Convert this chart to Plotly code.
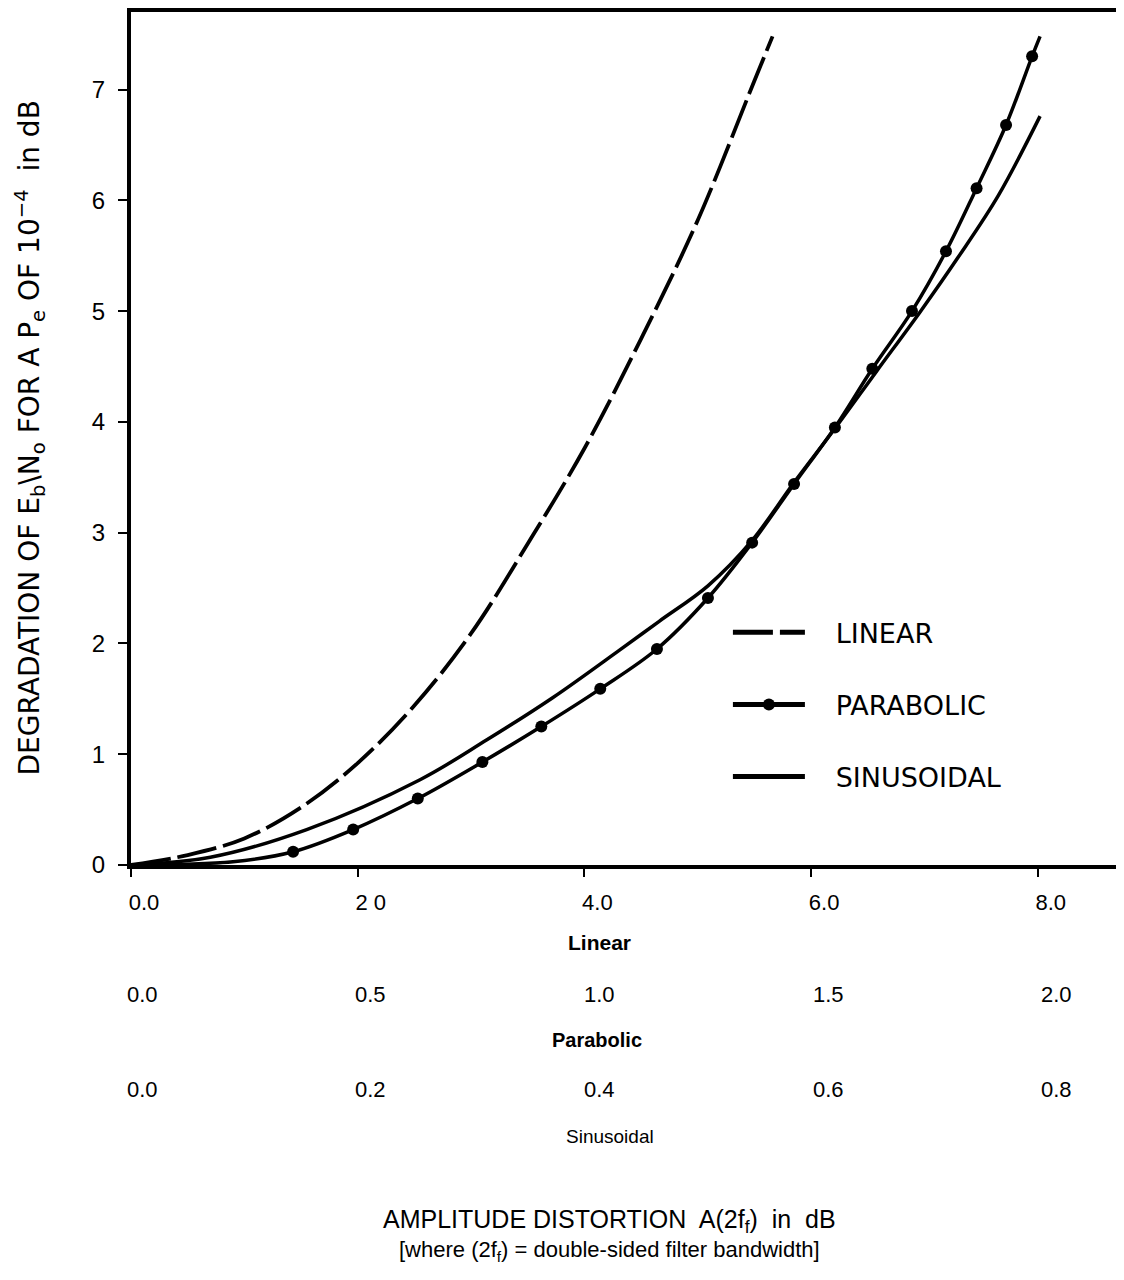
import plotly.graph_objects as go

# ---- data ----------------------------------------------------------------
# degradation of Eb/No (dB) vs amplitude distortion, three distortion shapes
LINEAR_X = [0.0, 0.5, 1.0, 1.5, 2.0, 2.5, 3.0, 3.5, 4.0, 4.5, 5.0, 5.5, 5.66]
LINEAR_Y = [0.0, 0.09, 0.24, 0.52, 0.92, 1.44, 2.09, 2.90, 3.76, 4.75, 5.82, 7.08, 7.48]

PARA_X = [0.0, 0.9, 1.43, 1.96, 2.53, 3.10, 3.62, 4.14, 4.64, 5.09, 5.48,
          5.85, 6.21, 6.54, 6.89, 7.19, 7.46, 7.72, 7.95, 8.02]
PARA_Y = [0.0, 0.03, 0.12, 0.32, 0.60, 0.93, 1.25, 1.59, 1.95, 2.41, 2.91,
          3.44, 3.95, 4.48, 5.00, 5.54, 6.11, 6.68, 7.30, 7.48]
# plotted dots (the first two and last points are only on the line)
PARA_DOT = [False, False] + [True] * 17 + [False]

SIN_X = [0.0, 0.70, 1.55, 2.55, 3.14, 3.72, 4.31, 4.66, 5.09, 5.48, 5.84,
         6.21, 6.58, 6.96, 7.30, 7.65, 8.02]
SIN_Y = [0.0, 0.07, 0.32, 0.77, 1.13, 1.51, 1.94, 2.20, 2.52, 2.93, 3.44,
         3.94, 4.46, 4.99, 5.49, 6.04, 6.76]

# the three stacked x scales (same positions, different units)
X_TICKS = [0, 2, 4, 6, 8]
LINEAR_TICKTEXT = ["0.0", "2 0", "4.0", "6.0", "8.0"]
PARABOLIC_TICKTEXT = ["0.0", "0.5", "1.0", "1.5", "2.0"]
SINUSOIDAL_TICKTEXT = ["0.0", "0.2", "0.4", "0.6", "0.8"]
Y_TICKS = [0, 1, 2, 3, 4, 5, 6, 7]

FONT = "Liberation Sans, Arial, sans-serif"
WIDE = "DejaVu Sans, Liberation Sans, sans-serif"
INK = "#000000"
NBSP = "&nbsp;" * 3

fig = go.Figure()
fig.add_trace(go.Scatter(
    x=LINEAR_X, y=LINEAR_Y, mode="lines", name=NBSP + "LINEAR",
    line=dict(color=INK, width=3.8, dash="40px,7px", shape="spline"),
    legendgroup="a",
))
fig.add_trace(go.Scatter(
    x=PARA_X, y=PARA_Y, mode="lines+markers", name=NBSP + "PARABOLIC",
    line=dict(color=INK, width=3.5, shape="spline"),
    marker=dict(color=INK, opacity=1, size=[12 if d else 0 for d in PARA_DOT],
                line=dict(width=0)),
    legendgroup="b",
))
fig.add_trace(go.Scatter(
    x=SIN_X, y=SIN_Y, mode="lines", name=NBSP + "SINUSOIDAL",
    line=dict(color=INK, width=3.5, shape="spline"),
    legendgroup="c",
))

# second and third rows of x tick labels + their captions
rows = [
    (PARABOLIC_TICKTEXT, -0.152),
    (SINUSOIDAL_TICKTEXT, -0.263),
]
for texts, yp in rows:
    for i, (xv, t) in enumerate(zip(X_TICKS, texts)):
        fig.add_annotation(x=xv, y=yp, xref="x", yref="paper", text=t,
                           showarrow=False, xshift=11 + 2 * i,
                           xanchor="center", yanchor="middle",
                           font=dict(size=22, color=INK))

captions = [
    ("<b>Linear</b>", 0.476, -0.0912, 21),
    ("<b>Parabolic</b>", 0.473, -0.2047, 20),
    ("Sinusoidal", 0.486, -0.318, 19),
    ("AMPLITUDE DISTORTION  A(2f<sub>f</sub>)  in  dB", 0.486, -0.4175, 25),
    ("[where (2f<sub>f</sub>) = double-sided filter bandwidth]", 0.486, -0.452, 22),
]
for text, xp, yp, size in captions:
    fig.add_annotation(x=xp, y=yp, xref="paper", yref="paper", text=text,
                       showarrow=False, xanchor="center", yanchor="middle",
                       font=dict(size=size, color=INK))

# y axis title, rotated
fig.add_annotation(
    x=-0.1025, y=0.50, xref="paper", yref="paper", textangle=-90,
    xanchor="center", yanchor="middle",
    text="DEGRADATION OF E<sub>b</sub>\\N<sub>o</sub> FOR A P<sub>e</sub> "
         "OF 10<sup>\u22124</sup>  in dB",
    showarrow=False, font=dict(size=28, color=INK, family=WIDE),
)

fig.update_xaxes(
    range=[0, 8.69], tickvals=X_TICKS, ticktext=LINEAR_TICKTEXT,
    showline=True, linecolor=INK, linewidth=4, mirror=True,
    ticks="outside", ticklen=8, tickwidth=2, tickcolor=INK,
    ticklabelstandoff=7, ticklabelshift=13,
    tickfont=dict(size=22, color=INK), showgrid=False, zeroline=False,
)
fig.update_yaxes(
    range=[0, 7.7], tickvals=Y_TICKS,
    showline=True, linecolor=INK, linewidth=4,
    ticks="outside", ticklen=9, tickwidth=2, tickcolor=INK,
    ticklabelstandoff=8,
    tickfont=dict(size=24, color=INK), showgrid=False, zeroline=False,
)
# the page adds an 8px body margin, so the figure is 16px smaller than the
# window and the margins are shifted by 8px to land where the scan has them
fig.update_layout(
    width=1108, height=1264,
    margin=dict(l=123, r=0, t=2, b=407),
    paper_bgcolor="white", plot_bgcolor="white",
    font=dict(family=FONT, color=INK),
    showlegend=True,
    legend=dict(
        x=0.606, y=0.301, xanchor="left", yanchor="top",
        font=dict(size=27, color=INK, family=WIDE), itemwidth=72,
        itemsizing="constant",
        tracegroupgap=34, traceorder="grouped", bgcolor="rgba(0,0,0,0)",
    ),
)

fig.write_html("out.html")
